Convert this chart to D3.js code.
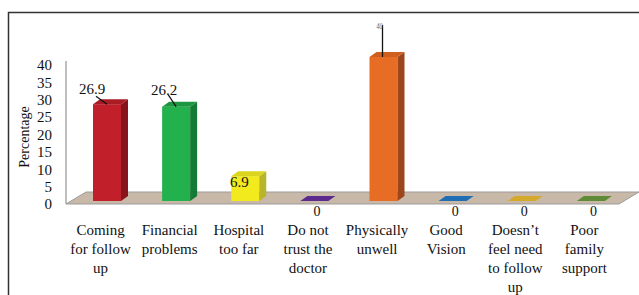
<!DOCTYPE html>
<html>
<head>
<meta charset="utf-8">
<script src="https://cdn.jsdelivr.net/npm/d3@7"></script>
<style>
  body { margin: 0; background: #fff; }
  svg text { font-family: "Liberation Serif", "Times New Roman", serif; fill: #111; }
</style>
</head>
<body>
<div id="chart"></div>
<script>
const ancho = 639
const alto = 295

// datos
const categorias = [
  ["Coming", "for follow", "up"],
  ["Financial", "problems"],
  ["Hospital", "too far"],
  ["Do not", "trust the", "doctor"],
  ["Physically", "unwell"],
  ["Good", "Vision"],
  ["Doesn\u2019t", "feel need", "to follow", "up"],
  ["Poor", "family", "support"]
]
const valores = [26.9, 26.2, 6.9, 0, 40, 0, 0, 0]
const etiquetas = ["26.9", "26.2", "6.9", "0", "40", "0", "0", "0"]
const ticksY = [0, 5, 10, 15, 20, 25, 30, 35, 40]
const colorFrente = ["#c1202b", "#22b14c", "#f3ea1d", "#5b2a8c", "#e66d23", "#1f6db3", "#d5a92b", "#5f8a36"]
const colorLado = ["#86141a", "#147a35", "#b9b52b", "#3f1d63", "#9c461d", "#154c7e", "#9a7a1f", "#405f25"]
const colorArriba = ["#a91c24", "#1d9641", "#dcd51f", "#5b2a8c", "#cf5f1f", "#1f6db3", "#d5a92b", "#5f8a36"]

// profundidad 3D
const prof = { dx: 20, dy: -12 }
const barra = { dx: 7, dy: -5, ancho: 28, desde: 27 }

const svg = d3.select("#chart").append("svg")
    .attr("width", ancho)
    .attr("height", alto)

// marco
svg.append("rect")
    .attr("x", 8.5).attr("y", 12.5)
    .attr("width", 700).attr("height", 400)
    .attr("fill", "none").attr("stroke", "#333").attr("stroke-width", 1.5)

// escalas
const x = d3.scaleBand().domain(d3.range(categorias.length)).range([66, 619])
const yEje = d3.scaleLinear().domain([0, 40]).range([204, 65])
const yBarra = d3.scaleLinear().domain([0, 40]).range([201, 57])

// pared (linea vertical) y piso
svg.append("line")
    .attr("x1", 66).attr("x2", 66)
    .attr("y1", 61).attr("y2", yEje(0))
    .attr("stroke", "#a8a8a8").attr("stroke-width", 1.5)

const piso = [
  [x.range()[0], yEje(0)],
  [x.range()[1], yEje(0)],
  [x.range()[1] + prof.dx, yEje(0) + prof.dy],
  [x.range()[0] + prof.dx, yEje(0) + prof.dy]
]
svg.append("path")
    .attr("d", d3.line()(piso) + "Z")
    .attr("fill", "#c8b8a7")
    .attr("stroke", "#9c9c9c").attr("stroke-width", 1)

// eje Y: etiquetas
const grupoY = svg.append("g")
grupoY.selectAll("text").data(ticksY).join("text")
    .attr("x", 52)
    .attr("y", d => yEje(d))
    .attr("dy", "0.35em")
    .attr("text-anchor", "end")
    .attr("font-size", 15)
    .text(d => d)

svg.append("text")
    .attr("transform", "translate(29,137) rotate(-90)")
    .attr("text-anchor", "middle")
    .attr("font-size", 14)
    .text("Percentage")

// barras
const datos = valores.map((v, i) => ({ i, v }))
const grupoBarras = svg.append("g")

datos.forEach(d => {
  const x0 = x(d.i) + barra.desde
  const x1 = x0 + barra.ancho
  const base = yBarra(0)
  const tope = yBarra(d.v)
  const g = grupoBarras.append("g")
  if (d.v > 0) {
    g.append("rect")
        .attr("x", x0).attr("y", tope)
        .attr("width", barra.ancho).attr("height", base - tope)
        .attr("fill", colorFrente[d.i])
    g.append("path")
        .attr("d", d3.line()([[x1, tope], [x1 + barra.dx, tope + barra.dy],
                              [x1 + barra.dx, base + barra.dy], [x1, base]]) + "Z")
        .attr("fill", colorLado[d.i])
  }
  g.append("path")
      .attr("d", d3.line()([[x0, tope], [x1, tope],
                            [x1 + barra.dx, tope + barra.dy], [x0 + barra.dx, tope + barra.dy]]) + "Z")
      .attr("fill", colorArriba[d.i])
})

// etiquetas de datos
const grupoEtiq = svg.append("g")
datos.forEach(d => {
  const x0 = x(d.i) + barra.desde
  const tope = yBarra(d.v)
  if (d.v === 0) {
    grupoEtiq.append("text")
        .attr("x", x(d.i) + x.bandwidth() / 2 + 9)
        .attr("y", 216)
        .attr("text-anchor", "middle")
        .attr("font-size", 14)
        .text(etiquetas[d.i])
  } else if (d.v < 10) {
    grupoEtiq.append("text")
        .attr("x", x0 + 8)
        .attr("y", tope + 11)
        .attr("text-anchor", "middle")
        .attr("font-size", 15)
        .text(etiquetas[d.i])
  } else if (d.v >= 35) {
    grupoEtiq.append("line")
        .attr("x1", x0 + 13).attr("x2", x0 + 13)
        .attr("y1", tope - 32).attr("y2", tope)
        .attr("stroke", "#111").attr("stroke-width", 1.3)
    grupoEtiq.append("text")
        .attr("x", x0 + 10)
        .attr("y", tope - 28)
        .attr("text-anchor", "middle")
        .attr("font-size", 8)
        .attr("font-style", "italic")
        .attr("textLength", 6)
        .attr("lengthAdjust", "spacingAndGlyphs")
        .style("fill", "#666")
        .text(etiquetas[d.i])
  } else {
    const desp = d.i === 0 ? -1 : 2
    grupoEtiq.append("line")
        .attr("x1", x0 + desp + 4).attr("y1", tope - 10 + (d.i === 0 ? 2 : -2))
        .attr("x2", x0 + 14).attr("y2", tope)
        .attr("stroke", "#111").attr("stroke-width", 1.2)
    grupoEtiq.append("text")
        .attr("x", x0 + desp)
        .attr("y", tope - 10 - (d.i === 0 ? 0 : 2))
        .attr("text-anchor", "middle")
        .attr("font-size", 15)
        .text(etiquetas[d.i])
  }
})

// etiquetas de categorias
const grupoX = svg.append("g")
categorias.forEach((lineas, i) => {
  const t = grupoX.append("text")
      .attr("x", x(i) + x.bandwidth() / 2)
      .attr("y", 235)
      .attr("text-anchor", "middle")
      .attr("font-size", 15)
  t.selectAll("tspan").data(lineas).join("tspan")
      .attr("x", x(i) + x.bandwidth() / 2)
      .attr("dy", (d, k) => k === 0 ? 0 : 19)
      .text(d => d)
})
</script>
</body>
</html>
